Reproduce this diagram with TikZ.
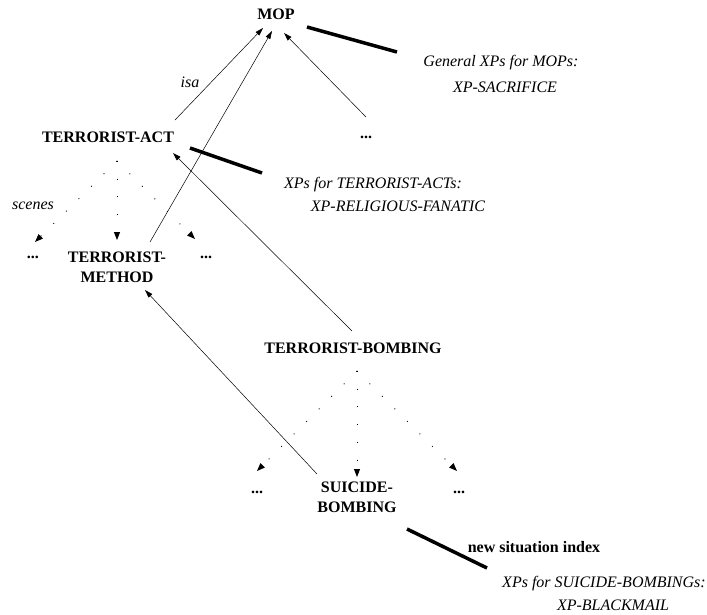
\documentclass[tikz,border=0pt]{standalone}
\usepackage{fontspec}
\setmainfont{Liberation Serif}
\usepackage{tikz}
\usetikzlibrary{arrows.meta}

\tikzset{
  mopnode/.style={font=\fontsize{16}{20}\selectfont\bfseries, inner sep=0pt, align=center},
  xptext/.style={font=\fontsize{16}{20}\selectfont\itshape, inner sep=0pt},
  isaarrow/.style={line width=0.5pt, -{Triangle[length=8pt,width=5pt]}},
  scenearrow/.style={line width=0.9pt, dash pattern=on 0.9pt off 16.8pt, -{Triangle[length=8pt,width=6pt]}},
  xplink/.style={line width=3.5pt},
}

\begin{document}
\begin{tikzpicture}[x=1pt, y=-1pt]
  \useasboundingbox (0,0) rectangle (707,614);

  % MOPs
  \node[mopnode] (mop) at (276,14) {MOP};
  \node[mopnode] (act) at (108,137) {TERRORIST-ACT};
  \node[mopnode] (mopmore) at (366,137) {...};
  \node[mopnode] (method) at (117,267) {TERRORIST-\\METHOD};
  \node[mopnode] (actmoreL) at (33,257) {...};
  \node[mopnode] (actmoreR) at (206,257) {...};
  \node[mopnode] (bombing) at (353,348) {TERRORIST-BOMBING};
  \node[mopnode] (suicide) at (357,497) {SUICIDE-\\BOMBING};
  \node[mopnode] (bombmoreL) at (257,492) {...};
  \node[mopnode] (bombmoreR) at (459,492) {...};

  % Labels
  \node[xptext] (isa) at (190,82) {isa};
  \node[xptext] (scenes) at (33,206) {scenes};

  % XPs
  \node[xptext] (xpmop) at (501,63) {General XPs for MOPs:};
  \node[xptext] (xpmopB) at (505,87) {XP-SACRIFICE};
  \node[xptext] (xpact) at (373,185) {XPs for TERRORIST-ACTs:};
  \node[xptext] (xpactB) at (398,206) {XP-RELIGIOUS-FANATIC};
  \node[mopnode] (newidx) at (534,547) {new situation index};
  \node[xptext] (xpsuicide) at (604,584) {XPs for SUICIDE-BOMBINGs:};
  \node[xptext] (xpsuicideB) at (613,605) {XP-BLACKMAIL};

  % isa links
  \draw[isaarrow] ([shift={(67,-17)}]act.center) -- ([shift={(-13,14)}]mop.center);
  \draw[isaarrow] ([shift={(33,-25)}]method.center) -- ([shift={(-4,17)}]mop.center);
  \draw[isaarrow] ([shift={(0,-20)}]mopmore.center) -- ([shift={(8,19)}]mop.center);
  \draw[isaarrow] ([shift={(-1,-17)}]bombing.center) -- ([shift={(65,16)}]act.center);
  \draw[isaarrow] ([shift={(-40,-23)}]suicide.center) -- ([shift={(28,23)}]method.center);

  % scenes
  \draw[scenearrow] ([shift={(9,24)}]act.center) -- ([shift={(2,-15)}]actmoreL.center);
  \draw[scenearrow] ([shift={(9,24)}]act.center) -- ([shift={(0,-27)}]method.center);
  \draw[scenearrow] ([shift={(9,24)}]act.center) -- ([shift={(-11,-18)}]actmoreR.center);
  \draw[scenearrow] ([shift={(4,23)}]bombing.center) -- ([shift={(0,-21)}]bombmoreL.center);
  \draw[scenearrow] ([shift={(4,23)}]bombing.center) -- ([shift={(0,-20)}]suicide.center);
  \draw[scenearrow] ([shift={(4,23)}]bombing.center) -- ([shift={(-2,-21)}]bombmoreR.center);

  % XP links
  \draw[xplink] ([shift={(31,13)}]mop.center) -- ([shift={(-104,-11)}]xpmop.center);
  \draw[xplink] ([shift={(82,11)}]act.center) -- ([shift={(-111,-12)}]xpact.center);
  \draw[xplink] ([shift={(50,32)}]suicide.center) -- ([shift={(-47,21)}]newidx.center);
\end{tikzpicture}
\end{document}
